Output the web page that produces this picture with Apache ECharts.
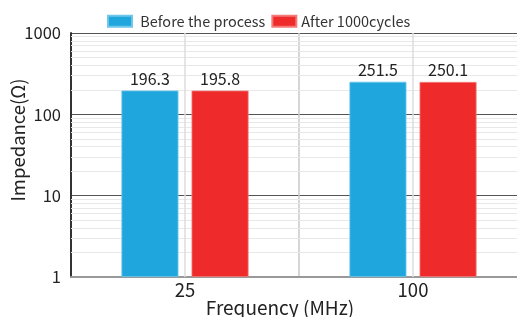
<!DOCTYPE html>
<html><head><meta charset="utf-8">
<script src="https://cdn.jsdelivr.net/npm/echarts@6/dist/echarts.min.js"></script>
<style>html,body{margin:0;padding:0;background:#fff}#c{width:517px;height:317px}</style>
</head><body><div id="c"></div>
<script>
const categories = ['25', '100'];
const seriesNames = ['Before the process', 'After 1000cycles'];
const beforeValues = [196.3, 251.5];
const afterValues = [195.8, 250.1];
const yTicks = [1, 10, 100, 1000];
const minorTicks = [2,3,4,5,6,7,8,9,20,30,40,50,60,70,80,90,200,300,400,500,600,700,800,900];

const FONT = '"Noto Sans CJK JP", "Noto Sans", sans-serif';
const chart = echarts.init(document.getElementById('c'), null, {renderer: 'canvas'});

const labelCfg = {show: true, position: 'top', distance: 4, color: '#222', fontSize: 16, fontFamily: FONT,
  formatter: p => p.value.toFixed(1)};

chart.setOption({
  animation: false,
  textStyle: {fontFamily: FONT},
  legend: {
    top: 9, left: 102, itemWidth: 24, itemHeight: 11, itemGap: 6,
    icon: 'rect',
    textStyle: {fontSize: 14.5, color: '#333', fontFamily: FONT},
    formatter: name => (name === seriesNames[0] ? ' ' + name : name),
    data: seriesNames
  },
  grid: {left: 71, right: -10, top: 33, bottom: 40, containLabel: false, outerBoundsMode: 'none'},
  xAxis: {
    type: 'category', data: categories,
    axisLine: {show: true, lineStyle: {color: '#999', width: 2}},
    axisTick: {show: false},
    axisLabel: {fontSize: 18.5, color: '#222', margin: 4, fontFamily: FONT},
    splitLine: {show: true, lineStyle: {color: '#c8c8c8', width: 1.5}},
    name: 'Frequency (MHz)', nameLocation: 'middle', nameGap: 21, nameMoveOverlap: false,
    nameTextStyle: {fontSize: 19, color: '#222', fontFamily: FONT, padding: [0, 38, 0, 0]}
  },
  yAxis: {
    type: 'log', logBase: 10, min: yTicks[0], max: yTicks[yTicks.length - 1],
    axisLine: {show: true, lineStyle: {color: '#333', width: 2}},
    axisTick: {show: false},
    axisLabel: {fontSize: 16.5, color: '#222', margin: 10, fontFamily: FONT, formatter: v => String(v)},
    splitLine: {show: true, lineStyle: {color: '#555', width: 1}},
    name: 'Impedance(Ω)', nameLocation: 'middle', nameGap: 44, nameRotate: 90, nameMoveOverlap: false,
    nameTextStyle: {fontSize: 18.5, color: '#222', fontFamily: FONT, padding: [0, 0, 0, 30]}
  },
  series: [
    {
      name: 'minor', type: 'line', data: [], z: 1, silent: true,
      markLine: {
        z: 1, zlevel: 0,
        silent: true, symbol: 'none', label: {show: false}, animation: false,
        lineStyle: {color: '#e8e8e8', width: 1, type: 'solid'},
        data: minorTicks.map(v => ({yAxis: v})).concat(
          categories.map(c => ({xAxis: c, lineStyle: {color: '#dcdcdc', width: 1.5}})))
      }
    },
    {
      name: seriesNames[0], type: 'bar', data: beforeValues,
      barWidth: 57, barGap: '23%',
      itemStyle: {color: '#1fa7dd', borderColor: '#6fc6ea', borderWidth: 0.8},
      label: labelCfg,
      z: 3
    },
    {
      name: seriesNames[1], type: 'bar', data: afterValues,
      barWidth: 57,
      itemStyle: {color: '#ee2a2a', borderColor: '#f47a7a', borderWidth: 0.8},
      label: labelCfg,
      z: 3
    }
  ]
});
</script></body></html>
